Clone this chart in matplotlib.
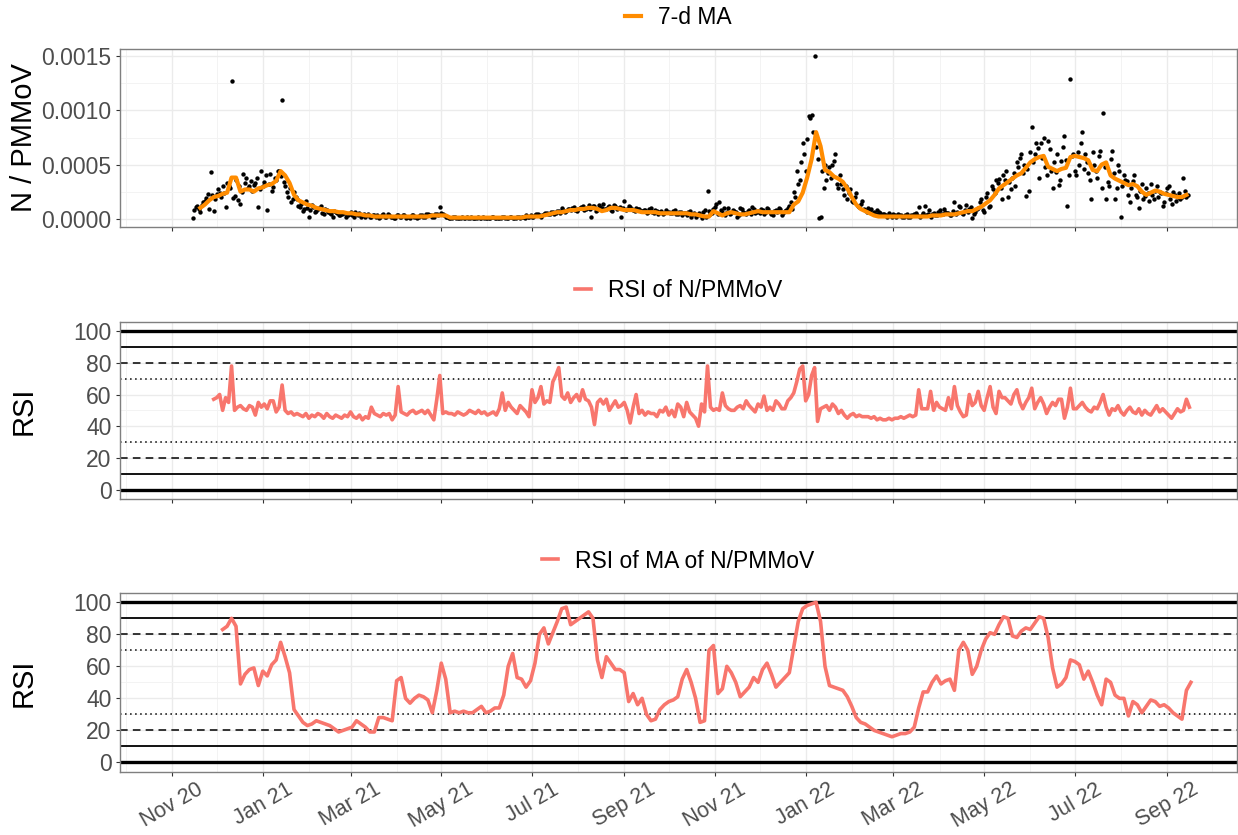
import numpy as np
import matplotlib
matplotlib.use("Agg")
import matplotlib.pyplot as plt
import matplotlib.dates as mdates
import matplotlib.ticker as mticker
from matplotlib.lines import Line2D

plt.rcParams["font.family"] = ["Liberation Sans", "DejaVu Sans"]

# N/PMMoV samples, every 2nd day from 2020-11-15, in units of 1e-5
point_start_a = np.datetime64("2020-11-15")
n_pmmov_a_e5 = [
    1, 11, 9, 13, 16, 23, 43, 7, 23, 24,
    30, 11, 30, 127, 21, 17, 14, 41, 38, 30,
    26, 33, 11, 44, 34, 8, 41, 29, 36, 44,
    110, 30, 20, 15, 25, 18, 11, 7, 16, 2,
    13, 6, 9, 12, 4, 8, 5, 2, 6, 3,
    4, 5, 3, 6, 2, 4, 5, 3, 2, 4,
    2, 3, 3, 2, 4, 2, 3, 2, 1, 3,
    2, 3, 2, 1, 3, 2, 2, 3, 2, 4,
    3, 2, 4, 11, 4, 2, 1, 1, 2, 1,
    1, 1, 2, 1, 1, 1, 2, 1, 1, 1,
    1, 2, 1, 1, 2, 1, 1, 2, 1, 2,
    1, 2, 3, 2, 2, 3, 4, 2, 4, 5,
    4, 6, 5, 7, 10, 6, 9, 8, 11, 7,
    10, 12, 9, 13, 2, 12, 8, 11, 14, 9,
    12, 7, 12, 10, 2, 16, 9, 11, 8, 10,
    9, 7, 8, 6, 10, 5, 7, 6, 4, 8,
    6, 5, 8, 4, 6, 5, 3, 7, 4, 2,
    5, 1, 8, 26, 4, 9, 14, 15, 6, 3,
    10, 5, 7, 2, 10, 6, 4, 8, 11, 5,
    7, 9, 4, 10, 6, 3, 8, 10, 3, 7,
    10, 15, 25, 44, 36, 70, 44, 95, 96, 150,
    55, 2, 28, 36, 48, 50, 60, 28, 32, 22,
    18, 27, 15, 24, 11, 16, 8, 10, 9, 6,
    8, 5, 4, 3, 5, 2, 3, 4, 3, 2,
    4, 2, 3, 5, 11, 3, 12, 4, 2, 5,
    3, 8, 4, 6, 5, 3, 15, 6, 11, 4,
    13, 9, 1, 6, 10, 18, 6, 24, 12, 27,
    36, 37, 18, 36, 20, 27, 42, 52, 56, 42,
    21, 26, 85, 60, 65, 70, 75, 40, 64, 28,
    43, 31, 53, 76, 12, 129, 60, 40, 50, 80,
    60, 42, 18, 50, 38, 63, 98, 18, 30, 63,
    18, 50, 2, 40, 35, 15, 35, 22, 10, 32,
    21, 24, 32, 18, 30, 25, 12, 24, 30, 14,
    22, 20, 18, 38, 20,
]

# N/PMMoV samples on the days in between, every 2nd day from 2020-11-16
point_start_b = np.datetime64("2020-11-16")
n_pmmov_b_e5 = [
    8, 12, 6, 15, 19, 9, 22, 18, 27, 20,
    24, 33, 28, 19, 36, 30, 25, 33, 28, 35,
    31, 38, 27, 30, 40, 32, 26, 38, 44, 39,
    34, 25, 28, 18, 20, 12, 14, 9, 10, 8,
    11, 7, 10, 5, 9, 6, 4, 7, 5, 3,
    5, 2, 4, 3, 6, 3, 2, 4, 3, 2,
    3, 2, 1, 3, 2, 4, 2, 1, 3, 2,
    3, 1, 2, 3, 2, 1, 3, 2, 4, 3,
    2, 4, 3, 5, 3, 2, 1, 2, 1, 1,
    2, 1, 1, 2, 1, 1, 1, 2, 1, 1,
    2, 1, 1, 1, 2, 1, 2, 1, 1, 2,
    2, 1, 2, 3, 2, 4, 3, 3, 5, 4,
    6, 4, 7, 5, 8, 7, 9, 10, 8, 9,
    11, 8, 10, 9, 12, 7, 13, 10, 9, 11,
    8, 13, 9, 11, 10, 8, 12, 9, 7, 9,
    7, 8, 5, 9, 6, 8, 4, 7, 5, 6,
    5, 7, 4, 6, 3, 5, 6, 2, 5, 3,
    3, 6, 2, 7, 5, 11, 4, 8, 10, 6,
    4, 8, 6, 3, 9, 5, 7, 4, 9, 6,
    5, 8, 6, 9, 4, 7, 6, 9, 5, 8,
    12, 9, 20, 32, 52, 60, 74, 93, 80, 66,
    1, 44, 50, 42, 38, 53, 32, 40, 27, 30,
    24, 16, 20, 12, 14, 9, 6, 8, 5, 4,
    6, 3, 4, 2, 3, 4, 2, 3, 2, 3,
    2, 3, 4, 3, 2, 5, 3, 8, 4, 3,
    6, 4, 9, 5, 3, 7, 4, 12, 5, 8,
    6, 11, 4, 9, 15, 8, 20, 11, 30, 24,
    33, 28, 40, 44, 34, 38, 30, 48, 60, 50,
    46, 62, 52, 70, 38, 56, 48, 72, 44, 52,
    60, 36, 66, 54, 40, 58, 44, 62, 70, 46,
    52, 36, 62, 44, 58, 28, 48, 34, 55, 42,
    28, 44, 30, 36, 22, 28, 40, 20, 26, 18,
    28, 16, 22, 26, 20, 24, 15, 28, 18, 25,
    16, 24, 20, 26, 22,
]
point_step = 2

# 7-day moving average, every 3rd day from 2020-11-20, in units of 1e-5
ma_start = np.datetime64("2020-11-20")
ma_step = 3
ma_e5 = [
    10, 13, 17, 20, 21, 23, 24, 38, 38, 25,
    27, 27, 25, 28, 29, 31, 32, 35, 44, 40,
    33, 22, 17, 15, 13, 12, 10, 9, 8, 7,
    7, 6, 6, 5, 5, 4, 4, 3, 3, 2,
    2, 2, 2, 2, 2, 2, 2, 2, 2, 2,
    2, 2, 3, 3, 3, 3, 1, 1, 1, 1,
    1, 1, 1, 1, 1, 1, 1, 1, 1, 1,
    1, 1, 1, 2, 2, 2, 2, 3, 4, 5,
    6, 6, 7, 8, 8, 9, 9, 10, 10, 9,
    7, 8, 10, 10, 9, 8, 8, 8, 7, 6,
    6, 6, 6, 5, 5, 5, 5, 5, 5, 5,
    4, 4, 3, 2, 2, 7, 5, 3, 5, 6,
    5, 4, 4, 5, 6, 7, 6, 6, 6, 6,
    6, 6, 6, 13, 16, 24, 38, 55, 80, 67,
    45, 43, 39, 37, 34, 28, 20, 13, 9, 7,
    5, 3, 2, 2, 2, 2, 2, 2, 2, 2,
    2, 2, 2, 2, 3, 3, 3, 4, 4, 4,
    5, 6, 7, 7, 9, 11, 14, 17, 22, 28,
    31, 34, 37, 40, 42, 47, 52, 55, 57, 58,
    48, 46, 44, 46, 47, 57, 58, 57, 56, 54,
    45, 44, 50, 52, 40, 37, 35, 33, 31, 32,
    30, 25, 22, 24, 26, 25, 23, 22, 21, 20,
    20, 22,
]

# RSI of N/PMMoV, every 2nd day from 2020-11-29
rsi_start = np.datetime64("2020-11-29")
rsi_step = 2
rsi_raw = [
    57, 58, 60, 50, 58, 55, 78, 50, 52, 53,
    51, 50, 53, 52, 47, 55, 52, 54, 51, 56,
    56, 49, 52, 66, 50, 48, 49, 47, 48, 47,
    46, 48, 45, 47, 46, 48, 47, 45, 48, 46,
    45, 47, 46, 45, 47, 46, 49, 46, 45, 47,
    44, 46, 45, 52, 48, 47, 46, 48, 47, 48,
    44, 47, 65, 49, 48, 47, 49, 50, 48, 49,
    50, 48, 50, 47, 44, 57, 72, 48, 49, 48,
    48, 47, 49, 48, 47, 48, 50, 49, 48, 50,
    48, 49, 47, 48, 49, 47, 51, 61, 50, 55,
    52, 50, 48, 53, 51, 49, 46, 63, 55, 58,
    65, 54, 56, 55, 68, 72, 77, 59, 57, 61,
    55, 58, 60, 56, 63, 57, 56, 52, 41, 55,
    57, 54, 57, 50, 53, 56, 52, 53, 55, 50,
    42, 52, 60, 48, 50, 47, 49, 48, 48, 46,
    50, 49, 52, 47, 50, 46, 54, 52, 46, 55,
    49, 47, 45, 40, 54, 49, 78, 52, 50, 51,
    50, 61, 53, 51, 50, 50, 52, 53, 51, 56,
    53, 51, 49, 54, 52, 59, 50, 52, 50, 56,
    54, 51, 51, 56, 58, 61, 68, 76, 78, 56,
    60, 72, 77, 43, 51, 52, 53, 50, 54, 52,
    48, 50, 47, 45, 47, 48, 46, 47, 46, 46,
    46, 45, 46, 44, 45, 44, 44, 45, 44, 45,
    45, 46, 45, 46, 47, 46, 47, 63, 51, 51,
    51, 62, 50, 55, 52, 51, 50, 58, 51, 65,
    53, 49, 46, 47, 60, 53, 55, 62, 53, 50,
    58, 65, 52, 48, 62, 58, 58, 56, 54, 60,
    63, 55, 51, 55, 58, 64, 51, 55, 58, 54,
    48, 52, 55, 53, 57, 57, 45, 52, 64, 51,
    51, 53, 55, 52, 50, 49, 52, 51, 55, 60,
    52, 47, 51, 50, 53, 49, 47, 50, 52, 49,
    48, 51, 47, 50, 48, 47, 50, 53, 49, 51,
    49, 47, 45, 48, 51, 49, 50, 57, 52,
]

# RSI of the moving average, every 3rd day from 2020-12-05
rsi_ma_start = np.datetime64("2020-12-05")
rsi_ma_step = 3
rsi_ma = [
    83, 85, 90, 85, 49, 55, 58, 59, 48, 57,
    54, 61, 64, 75, 66, 56, 33, 29, 25, 23,
    24, 26, 25, 24, 23, 21, 19, 20, 21, 22,
    26, 24, 22, 19, 19, 28, 28, 27, 26, 51,
    53, 40, 37, 40, 42, 41, 39, 31, 45, 62,
    52, 31, 32, 31, 32, 31, 31, 33, 35, 31,
    32, 34, 34, 42, 60, 68, 53, 52, 47, 51,
    62, 80, 84, 74, 81, 88, 96, 97, 86, 88,
    90, 92, 94, 90, 64, 53, 66, 62, 58, 58,
    56, 38, 43, 36, 40, 30, 26, 27, 33, 36,
    38, 39, 41, 52, 58, 50, 40, 25, 26, 70,
    73, 43, 46, 60, 56, 50, 41, 44, 47, 53,
    50, 58, 62, 55, 47, 50, 53, 56, 72, 88,
    96, 98, 99, 100, 88, 60, 48, 47, 46, 45,
    41, 35, 28, 25, 24, 22, 20, 19, 18, 17,
    16, 17, 18, 18, 19, 22, 34, 44, 44, 50,
    54, 49, 51, 52, 45, 70, 75, 70, 55, 60,
    70, 77, 81, 80, 86, 91, 90, 79, 78, 82,
    84, 83, 87, 91, 90, 78, 59, 47, 49, 53,
    64, 63, 61, 52, 57, 50, 42, 36, 52, 50,
    42, 40, 40, 29, 38, 36, 31, 35, 39, 38,
    35, 36, 34, 31, 29, 27, 45, 50,
]

# RSI reference levels
rsi_levels = [0, 10, 20, 30, 70, 80, 90, 100]
level_styles = {
    0: (2.4, "-"), 100: (2.4, "-"),
    10: (1.3, "-"), 90: (1.3, "-"),
    20: (1.1, (0, (5, 3.4))), 80: (1.1, (0, (5, 3.4))),
    30: (1.1, (0, (1, 2.3))), 70: (1.1, (0, (1, 2.3))),
}

ORANGE = "#FF8C00"
SALMON = "#F8766D"
X_LIM = (np.datetime64("2020-09-27"), np.datetime64("2022-10-18"))


def dates_for(start, step, values):
    return start + np.arange(len(values)) * step


W, H = 1238, 835
fig = plt.figure(figsize=(W / 100, H / 100), dpi=100)
fig.patch.set_facecolor("white")


def make_panel(top, bottom):
    ax = fig.add_axes([120 / W, 1 - bottom / H, 1117 / W, (bottom - top) / H])
    ax.set_xlim(*X_LIM)
    ax.xaxis.set_major_locator(mdates.MonthLocator(bymonth=[1, 3, 5, 7, 9, 11]))
    ax.xaxis.set_minor_locator(mdates.MonthLocator(bymonth=[2, 4, 6, 8, 10, 12]))
    ax.xaxis.set_major_formatter(mdates.DateFormatter("%b %y"))
    ax.grid(True, which="major", color="#EBEBEB", linewidth=1.0, zorder=0)
    ax.grid(True, which="minor", color="#F3F3F3", linewidth=0.7, zorder=0)
    ax.set_axisbelow(True)
    for s in ax.spines.values():
        s.set_color("#7F7F7F")
        s.set_linewidth(1.0)
    ax.tick_params(which="major", direction="out", length=3, width=0.8,
                   color="#333333", labelsize=16.5, labelcolor="#4D4D4D", pad=3)
    ax.tick_params(which="minor", length=0)
    ax.yaxis.set_label_coords(-96 / 1117, 0.5)
    return ax


def add_legend(ax, color, label, lw):
    h = [Line2D([], [], color=color, lw=lw)]
    ax.legend(h, [label], loc="center", bbox_to_anchor=(0.5, 1 + 32 / 179),
              frameon=False, fontsize=16.5, handlelength=0.7, handletextpad=0.75,
              borderaxespad=0, borderpad=0)


# Panel 1: N/PMMoV with moving average
ax1 = make_panel(49, 227)
for start, vals in [(point_start_a, n_pmmov_a_e5), (point_start_b, n_pmmov_b_e5)]:
    ax1.scatter(dates_for(start, point_step, vals), np.array(vals) * 1e-5, s=10,
                color="black", linewidths=0, zorder=3)
ax1.plot(dates_for(ma_start, ma_step, ma_e5), np.array(ma_e5) * 1e-5,
         color=ORANGE, lw=3.0, zorder=4)
ax1.set_ylim(-0.0000767, 0.001568)
ax1.yaxis.set_major_locator(mticker.MultipleLocator(0.0005))
ax1.yaxis.set_minor_locator(mticker.MultipleLocator(0.00025))
ax1.yaxis.set_major_formatter(mticker.FormatStrFormatter("%.4f"))
ax1.set_ylabel("N / PMMoV", fontsize=21, va="center")
ax1.tick_params(axis="x", labelbottom=False)
add_legend(ax1, ORANGE, "7-d MA", 3.0)


def rsi_panel(top, bottom, start, step, values, label):
    ax = make_panel(top, bottom)
    for lvl in rsi_levels:
        lw, ls = level_styles[lvl]
        ax.axhline(lvl, color="black", lw=lw, linestyle=ls, zorder=2)
    ax.plot(dates_for(start, step, values), values, color=SALMON, lw=2.6, zorder=3)
    ax.set_ylim(-6, 105.8)
    ax.yaxis.set_major_locator(mticker.MultipleLocator(20))
    ax.yaxis.set_minor_locator(mticker.MultipleLocator(10))
    ax.set_ylabel("RSI", fontsize=21, va="center")
    add_legend(ax, SALMON, label, 2.6)
    return ax


ax2 = rsi_panel(322, 499, rsi_start, rsi_step, rsi_raw, "RSI of N/PMMoV")
ax2.tick_params(axis="x", labelbottom=False)

ax3 = rsi_panel(593, 772, rsi_ma_start, rsi_ma_step, rsi_ma, "RSI of MA of N/PMMoV")
ax3.tick_params(axis="x", labelsize=15.5, pad=2)
for lab in ax3.get_xticklabels():
    lab.set_rotation(30)
    lab.set_ha("center")
    lab.set_va("top")

fig.savefig("out.png", dpi=100)
